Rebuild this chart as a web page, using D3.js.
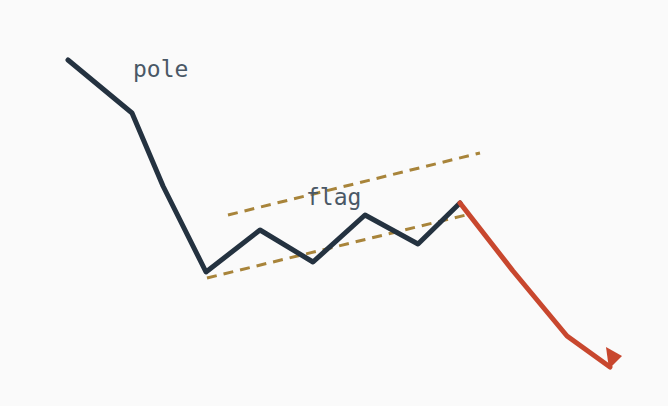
<!DOCTYPE html>
<html>
<head>
<meta charset="utf-8">
<script src="https://cdn.jsdelivr.net/npm/d3@7"></script>
<style>
body { margin: 0; background: #fafafa; }
</style>
</head>
<body>
<script>
// bear flag sketch: pole, flag channel, breakdown
var poleFlagT = [68, 132, 163, 206, 260, 313, 365, 418, 460];
var poleFlagP = [346, 293, 220, 134, 176, 144, 191, 162, 203];
var breakT = [460, 513, 567, 610];
var breakP = [203, 135, 70, 39];
var upperT = [228, 480];
var upperP = [191, 253];
var lowerT = [207, 470];
var lowerP = [128, 192];
var labels = [{text: "pole", t: 133, p: 329}, {text: "flag", t: 306, p: 201}];

var width = 668, height = 406;

var svg = d3.select("body").append("svg")
	.attr("width", width)
	.attr("height", height);

svg.append("rect")
	.attr("width", width)
	.attr("height", height)
	.attr("fill", "#fafafa");

var x = d3.scaleLinear().domain([0, 668]).range([0, width]);
var y = d3.scaleLinear().domain([0, 406]).range([height, 0]);

function pts(ts, ps) {
	return ts.map(function(t, i) { return [t, ps[i]]; });
}

var line = d3.line()
	.x(function(d) { return x(d[0]); })
	.y(function(d) { return y(d[1]); });

// channel lines
[pts(upperT, upperP), pts(lowerT, lowerP)].forEach(function(d) {
	svg.append("path")
		.attr("d", line(d))
		.attr("fill", "none")
		.attr("stroke", "#a8843a")
		.attr("stroke-width", 3)
		.attr("stroke-dasharray", "10,7");
});

svg.append("path")
	.attr("d", line(pts(poleFlagT, poleFlagP)))
	.attr("fill", "none")
	.attr("stroke", "#243240")
	.attr("stroke-width", 5)
	.attr("stroke-linejoin", "round")
	.attr("stroke-linecap", "round");

svg.append("path")
	.attr("d", line(pts(breakT, breakP)))
	.attr("fill", "none")
	.attr("stroke", "#c8472e")
	.attr("stroke-width", 5)
	.attr("stroke-linejoin", "round")
	.attr("stroke-linecap", "round");

// arrow head at the end of the breakdown
var ex = x(breakT[breakT.length-1]), ey = y(breakP[breakP.length-1]);
svg.append("path")
	.attr("d", "M" + (ex-4) + "," + (ey-20) + "L" + (ex+12) + "," + (ey-11) + "L" + (ex-1) + "," + (ey+2) + "Z")
	.attr("fill", "#c8472e");

svg.selectAll(".lbl")
	.data(labels)
	.enter()
	.append("text")
	.attr("class", "lbl")
	.attr("x", function(d) { return x(d.t); })
	.attr("y", function(d) { return y(d.p); })
	.attr("fill", "#4a5866")
	.style("font-family", "DejaVu Sans Mono, monospace")
	.style("font-size", "23px")
	.text(function(d) { return d.text; });
</script>
</body>
</html>
